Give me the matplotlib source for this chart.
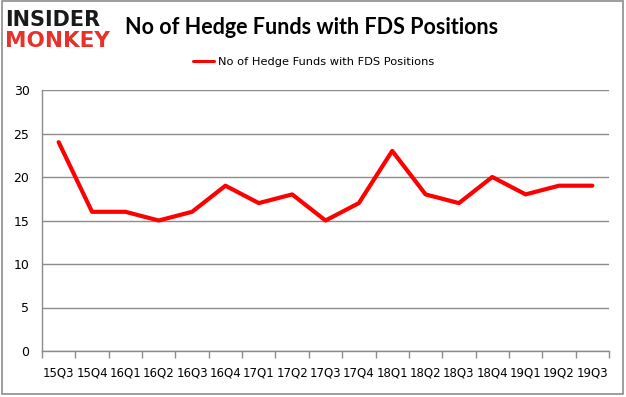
import matplotlib
matplotlib.use("Agg")
import matplotlib.pyplot as plt
from matplotlib.patches import Rectangle
import numpy as np

quarters = ["15Q3", "15Q4", "16Q1", "16Q2", "16Q3", "16Q4", "17Q1", "17Q2", "17Q3",
            "17Q4", "18Q1", "18Q2", "18Q3", "18Q4", "19Q1", "19Q2", "19Q3"]
funds = [24, 16, 16, 15, 16, 19, 17, 18, 15, 17, 23, 18, 17, 20, 18, 19, 19]
yticks = [0, 5, 10, 15, 20, 25, 30]
title = "No of Hedge Funds with FDS Positions"
series_label = "No of Hedge Funds with FDS Positions"

W, H = 626, 397
fig = plt.figure(figsize=(W / 100, H / 100), dpi=100)
fig.patch.set_facecolor("white")

# outer border
fig.add_artist(Rectangle((2 / W, 3 / H), 621 / W, 393 / H, transform=fig.transFigure,
                         fill=False, edgecolor="#8c8c8c", linewidth=1.2))

ax = fig.add_axes([42 / W, 1 - 351 / H, (609 - 42) / W, (351 - 90) / H])
n = len(quarters)
x = np.arange(n)
ax.plot(x, funds, color="#ff0000", linewidth=3, solid_capstyle="round",
        solid_joinstyle="round", label=series_label)
ax.set_xlim(-0.5, n - 0.5)
ax.set_ylim(0, 30)
ax.set_yticks(yticks)
ax.set_yticklabels([str(v) for v in yticks], fontsize=9, family="DejaVu Sans")
ax.set_xticks(x)
ax.set_xticklabels(quarters, fontsize=8.5, family="DejaVu Sans")
ax.tick_params(axis="x", length=0, pad=11)
ax.set_xticks(np.arange(n + 1) - 0.5, minor=True)
ax.tick_params(axis="x", which="minor", length=5, color="#8c8c8c", width=1)
ax.tick_params(axis="y", length=0, pad=9)
ax.grid(axis="y", color="#8c8c8c", linewidth=1)
ax.set_axisbelow(True)
for s in ["top", "right"]:
    ax.spines[s].set_visible(False)
ax.spines["left"].set_color("#8c8c8c")
ax.spines["bottom"].set_color("#8c8c8c")
ax.spines["left"].set_linewidth(1)
ax.spines["bottom"].set_linewidth(1)

# title
fig.text(312 / W, 1 - 27 / H, title, ha="center", va="center",
         fontsize=15.5, fontweight="bold", family="Lato", color="black")

# legend
leg = fig.legend(loc="center", bbox_to_anchor=(314 / W, 1 - 62 / H), frameon=False,
                 handlelength=1.8, handletextpad=0.4,
                 prop={"family": "DejaVu Sans", "size": 8.2})
for h in leg.get_lines():
    h.set_linewidth(2.2)

# logo
fig.text(5 / W, 1 - 20 / H, "INSIDER", ha="left", va="center", fontsize=15,
         fontweight="heavy", family="DejaVu Sans", color="#1a1a1a")
fig.text(5 / W, 1 - 41 / H, "MONKEY", ha="left", va="center", fontsize=15.5,
         fontweight="heavy", family="DejaVu Sans", color="#e8312a")

fig.savefig("out.png", dpi=100, facecolor="white")
